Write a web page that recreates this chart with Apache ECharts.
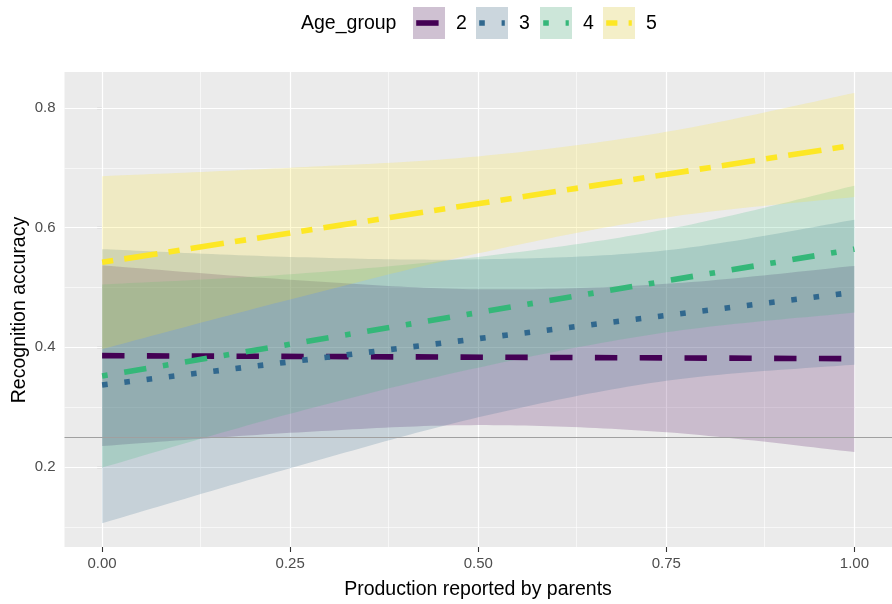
<!DOCTYPE html>
<html><head><meta charset="utf-8">
<script src="https://cdn.jsdelivr.net/npm/echarts@6/dist/echarts.min.js"></script>
<style>html,body{margin:0;padding:0;background:#fff}#c{width:892px;height:604px}</style>
</head><body><div id="c"></div>
<script>
// ---- data ----
const groups = ['2', '3', '4', '5'];
const colors = ['#440154', '#31688E', '#35B779', '#FDE725'];
const ribbonX = [0, 0.25, 0.5, 0.75, 1];
const lower2 = [0.235, 0.257, 0.270, 0.258, 0.225];
const upper2 = [0.537, 0.513, 0.497, 0.506, 0.536];
const lower3 = [0.106, 0.198, 0.283, 0.344, 0.371];
const upper3 = [0.564, 0.551, 0.547, 0.562, 0.613];
const lower4 = [0.199, 0.289, 0.366, 0.425, 0.458];
const upper4 = [0.505, 0.522, 0.551, 0.597, 0.670];
const lower5 = [0.397, 0.480, 0.557, 0.617, 0.651];
const upper5 = [0.686, 0.700, 0.719, 0.760, 0.825];
const lineX = [0, 1];
const fit2 = [0.386, 0.381];
const fit3 = [0.337, 0.492];
const fit4 = [0.352, 0.564];
const fit5 = [0.542, 0.738];
const chanceLevel = 0.25;
const xTicks = [0, 0.25, 0.5, 0.75, 1];
const xMinor = [0.125, 0.375, 0.625, 0.875];
const yTicks = [0.2, 0.4, 0.6, 0.8];
const yMinor = [0.1, 0.3, 0.5, 0.7];

const lowers = [lower2, lower3, lower4, lower5];
const uppers = [upper2, upper3, upper4, upper5];
const fits = [fit2, fit3, fit4, fit5];
const U = 5.6;
const dashes = [
  [4 * U, 4 * U],
  [1 * U, 3 * U],
  [1 * U, 3 * U, 4 * U, 3 * U],
  [2 * U, 2 * U, 6 * U, 2 * U]
];
const FONT = '"Liberation Sans", Arial, sans-serif';

// Catmull-Rom densify of pixel points (smooth curve through the read values)
function spline(pts, n) {
  const out = [];
  for (let i = 0; i < pts.length - 1; i++) {
    const p0 = pts[Math.max(i - 1, 0)], p1 = pts[i], p2 = pts[i + 1], p3 = pts[Math.min(i + 2, pts.length - 1)];
    for (let s = 0; s < n; s++) {
      const t = s / n, t2 = t * t, t3 = t2 * t;
      const f = (a, b, c, d) => 0.5 * ((2 * b) + (-a + c) * t + (2 * a - 5 * b + 4 * c - d) * t2 + (-a + 3 * b - 3 * c + d) * t3);
      out.push([f(p0[0], p1[0], p2[0], p3[0]), f(p0[1], p1[1], p2[1], p3[1])]);
    }
  }
  out.push(pts[pts.length - 1]);
  return out;
}

const chart = echarts.init(document.getElementById('c'), null, {renderer: 'canvas'});
const series = [];

// grid lines
const gl = [];
xMinor.forEach(v => gl.push({xAxis: v, lineStyle: {color: '#fff', width: 0.6, type: 'solid'}}));
yMinor.forEach(v => gl.push({yAxis: v, lineStyle: {color: '#fff', width: 0.6, type: 'solid'}}));
xTicks.forEach(v => gl.push({xAxis: v, lineStyle: {color: '#fff', width: 1.2, type: 'solid'}}));
yTicks.forEach(v => gl.push({yAxis: v, lineStyle: {color: '#fff', width: 1.2, type: 'solid'}}));
series.push({
  type: 'line', data: [], silent: true, z: 1,
  markLine: {silent: true, symbol: 'none', z: 1, animation: false, label: {show: false}, data: gl}
});

// ribbons
groups.forEach((g, i) => {
  series.push({
    type: 'custom', name: 'ribbon' + g, coordinateSystem: 'cartesian2d', silent: true, z: 2,
    encode: {x: 0, y: [1, 2]},
    data: ribbonX.map((x, k) => [x, lowers[i][k], uppers[i][k]]),
    renderItem: function (params, api) {
      if (params.dataIndex !== 0) return null;
      const up = ribbonX.map((x, k) => api.coord([x, uppers[i][k]]));
      const lo = ribbonX.map((x, k) => api.coord([x, lowers[i][k]]));
      const pts = spline(up, 24).concat(spline(lo, 24).reverse());
      return {type: 'polygon', shape: {points: pts}, style: {fill: colors[i], opacity: 0.2}};
    }
  });
});

// chance line
series.push({
  type: 'line', data: [], silent: true, z: 3,
  markLine: {silent: true, symbol: 'none', z: 3, animation: false, label: {show: false},
    data: [{yAxis: chanceLevel, lineStyle: {color: '#a0a0a0', width: 1, type: 'solid'}}]}
});

// fitted lines
groups.forEach((g, i) => {
  series.push({
    type: 'line', name: g, symbol: 'none', silent: true, z: 4,
    lineStyle: {color: colors[i], width: U, type: dashes[i], cap: 'butt'},
    data: lineX.map((x, k) => [x, fits[i][k]])
  });
});

// legend graphics
const boxX = [413, 476, 540, 603];
const graphic = [
  {type: 'text', x: 301, y: 24, style: {text: 'Age_group', fontSize: 19.5, fontFamily: FONT, fill: '#000', textVerticalAlign: 'middle'}},
  {type: 'text', x: 478, y: 590, style: {text: 'Production reported by parents', fontSize: 19.5, fontFamily: FONT, fill: '#000', textAlign: 'center', textVerticalAlign: 'middle'}},
  {type: 'text', x: 20, y: 310, rotation: Math.PI / 2, style: {text: 'Recognition accuracy', fontSize: 19.5, fontFamily: FONT, fill: '#000', textAlign: 'center', textVerticalAlign: 'middle'}}
];
groups.forEach((g, i) => {
  const bx = boxX[i];
  graphic.push({type: 'rect', shape: {x: bx, y: 7, width: 32, height: 32}, style: {fill: '#F2F2F2'}});
  graphic.push({type: 'rect', shape: {x: bx, y: 7, width: 32, height: 32}, style: {fill: colors[i], opacity: 0.2}});
  graphic.push({type: 'line', shape: {x1: bx + 3.2, y1: 23, x2: bx + 28.8, y2: 23},
    style: {stroke: colors[i], lineWidth: U, lineDash: dashes[i], lineCap: 'butt'}});
  graphic.push({type: 'text', x: bx + 43, y: 24, style: {text: g, fontSize: 19.5, fontFamily: FONT, fill: '#000', textVerticalAlign: 'middle'}});
});

chart.setOption({
  backgroundColor: '#fff',
  animation: false,
  grid: {left: 64.5, top: 72, width: 827.5, height: 475, show: true, backgroundColor: '#EBEBEB', borderWidth: 0, containLabel: false},
  xAxis: {
    type: 'value', min: -0.05, max: 1.05,
    axisLine: {show: false},
    splitLine: {show: false},
    axisTick: {show: true, length: 5, lineStyle: {color: '#333', width: 1.1}, customValues: xTicks},
    axisLabel: {customValues: xTicks, formatter: v => v.toFixed(2), color: '#4D4D4D', fontSize: 15, fontFamily: FONT, margin: 9}
  },
  yAxis: {
    type: 'value', min: 0.0663, max: 0.860,
    axisLine: {show: false},
    splitLine: {show: false},
    axisTick: {show: true, length: 5, lineStyle: {color: '#333', width: 1.1}, customValues: yTicks},
    axisLabel: {customValues: yTicks, formatter: v => v.toFixed(1), color: '#4D4D4D', fontSize: 15, fontFamily: FONT, margin: 9}
  },
  series: series,
  graphic: graphic
});
</script></body></html>
